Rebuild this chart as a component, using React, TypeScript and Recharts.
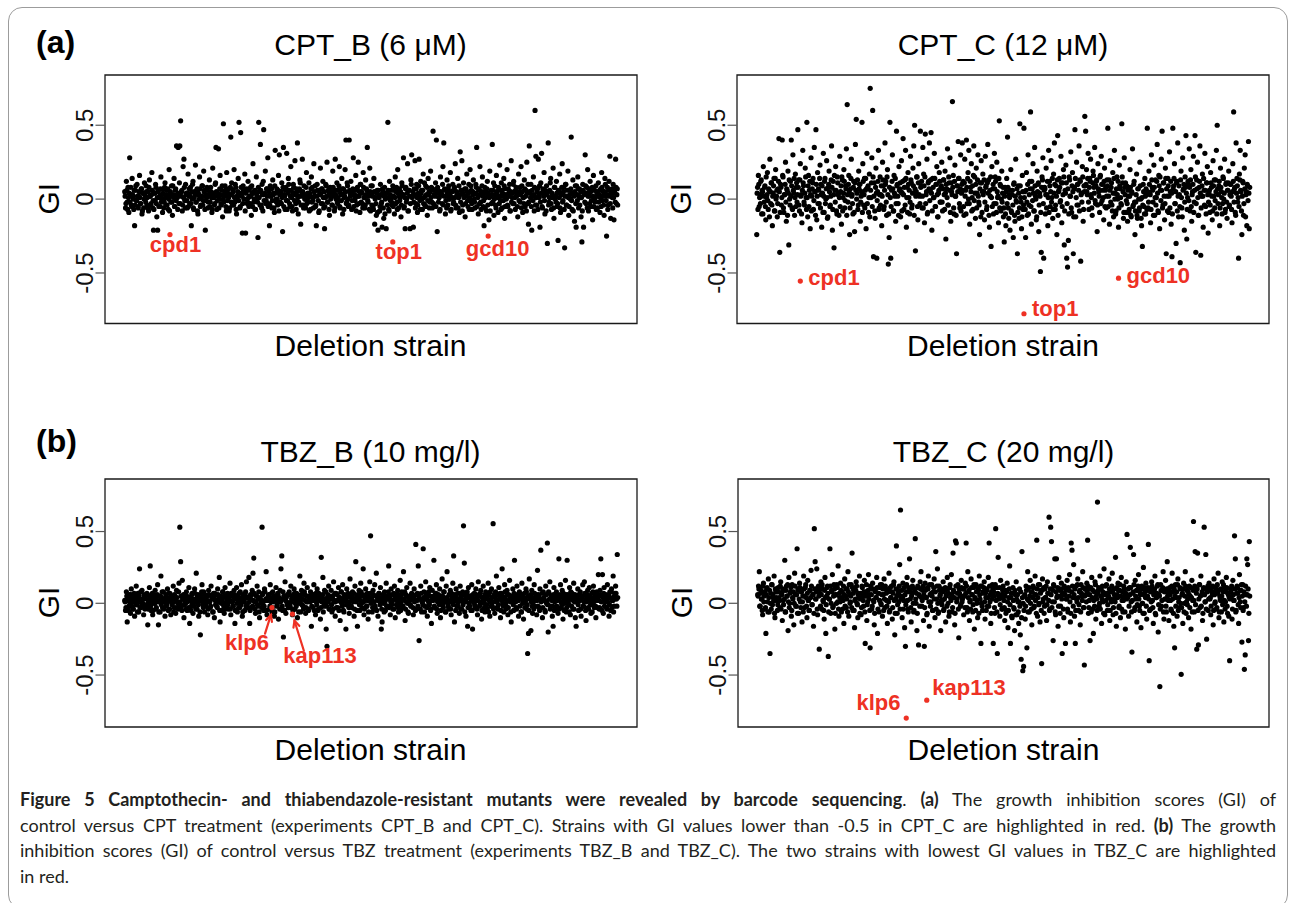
import React from "react";
import { ReferenceArea, Scatter, ScatterChart, XAxis, YAxis } from "recharts";

const FONT = '"Liberation Sans", Arial, Helvetica, sans-serif';
const RED = "#ee3124";

const giTicks = [-0.5, 0, 0.5];
const xDomain = [-24, 623];

// GI score per deletion strain, in strain order (600 strains per experiment)
const cptB = [
  .05,-.06,.12,-.02,.08,-.09,.28,.03,-.04,.14,.01,-.07,-.18,.06,-.01,.10,-.05,.02,.16,-.03,.07,-.10,.04,-.06,.11,
  0,.09,-.04,.05,-.08,.13,.02,-.03,.18,-.06,-.21,.04,-.01,.08,-.12,-.21,.06,.01,-.05,.15,.03,-.09,.07,-.02,.11,
  -.04,.06,.02,-.07,.20,.04,-.02,.09,-.11,.03,.14,-.05,.07,.36,.01,.35,-.03,.36,.53,.05,-.08,.22,.27,-.01,.10,
  .04,-.06,.17,.02,-.03,.08,-.18,0,.12,-.07,.05,.23,-.02,.07,-.10,.03,.15,-.05,.01,.09,-.04,.19,.06,-.21,-.01,
  .08,-.06,.03,.13,-.02,.05,-.09,.21,.01,-.04,.10,.35,-.07,.04,.34,0,.16,-.03,.06,-.12,.51,.02,.09,-.05,.18,
  -.01,.07,-.08,.03,.42,.11,-.04,.05,.20,-.02,.08,-.10,.01,.14,.52,-.06,.45,.04,-.23,.09,0,.17,-.23,.06,-.03,
  .12,-.05,.02,.08,-.11,.04,.24,-.02,.06,-.07,.15,.01,-.26,.52,.05,.37,-.04,.10,-.08,.47,.03,.19,-.01,.07,.28,
  -.03,-.18,.09,.02,-.06,.13,.04,-.09,.33,0,.07,-.04,.16,.30,-.02,.05,.11,-.22,.35,.03,-.07,.08,.31,-.01,.14,
  .06,-.05,.22,.01,-.08,.10,.04,.26,-.03,.07,.38,-.10,.02,.13,-.17,.05,.27,-.04,.09,0,-.06,.18,.03,-.02,.11,
  .04,-.07,.15,.08,-.01,.24,.02,-.05,-.18,.10,.06,-.09,.03,.21,-.03,.07,.12,-.06,-.20,.01,.09,.25,-.02,.05,-.11,
  .08,.02,-.04,.19,.05,-.08,.27,0,.11,-.03,.06,.22,-.06,.03,.14,-.10,.07,.01,.20,.40,-.02,.09,-.05,.40,.04,
  .12,-.07,.03,.28,.06,-.01,.16,-.04,.08,.25,.02,-.09,.10,.05,-.03,.18,.01,-.06,.13,.07,.35,-.02,.04,.21,-.08,
  .03,.09,-.05,.14,-.17,.01,-.11,.06,-.21,.02,-.08,.10,-.03,-.19,.05,-.13,.08,0,-.20,.04,.52,-.07,.12,-.01,.06,
  -.04,.09,.02,-.10,.15,.05,-.02,.20,-.06,.07,.01,-.12,.11,.03,.28,-.05,-.20,.08,0,.24,-.08,.06,-.20,.13,.30,
  .02,-.19,.07,.26,-.03,.10,-.09,.04,.27,-.01,.12,.06,-.07,.17,.01,-.04,.09,.03,-.11,.14,.05,-.02,.19,.08,-.06,
  .46,.03,-.05,.11,.40,-.22,.06,.01,-.08,.15,.04,-.03,.22,.38,.07,-.10,.02,.13,-.04,.09,0,.18,-.07,.05,.10,
  -.02,.08,.24,-.06,.03,.14,.01,-.09,.32,.06,.26,-.04,.11,.02,-.12,.07,.17,-.01,.04,-.07,.20,.09,-.03,.05,.13,
  0,-.06,.10,.35,.03,-.10,.07,.22,-.02,.05,.15,-.05,-.18,.08,.01,-.08,.12,.04,-.14,.19,.02,-.03,.37,.06,-.11,
  .09,-.04,.16,.03,-.09,.06,.23,-.01,.11,-.06,.02,.14,-.13,.07,0,.20,-.05,.04,.10,-.08,.26,.01,-.03,.12,.05,
  -.07,.08,.03,-.12,.17,.05,-.02,.22,.09,-.09,.01,.13,-.05,.06,.25,-.03,-.17,.36,.04,.10,-.21,.02,.15,-.08,.60,
  .29,-.04,.07,.27,.01,-.19,.11,.31,-.06,.04,.18,-.10,.03,.09,-.30,.38,-.02,.06,.14,-.07,.01,.21,-.13,.08,.02,
  .12,-.05,-.28,.05,.17,-.09,.03,.24,-.01,.08,-.33,.10,-.04,.02,.19,-.11,.06,0,.42,-.07,.13,.04,-.15,.09,-.19,
  .03,.15,-.06,.07,.01,-.12,-.29,.10,-.19,.04,.30,-.03,.08,.20,-.08,.02,.12,-.05,.06,-.14,.16,0,-.02,.09,.05,
  -.06,.11,.03,-.09,.07,.18,-.01,.05,-.11,.14,.02,-.25,.08,-.04,.12,.29,-.13,.06,.01,.10,-.14,.04,.27,-.03,.07,
];
// the strains sitting between those above, all inside the dense core
const cptBCore = [
  .02,-.03,.06,-.07,.01,.04,-.02,.08,-.05,.03,0,.06,-.04,.09,-.01,.02,-.06,.05,.01,-.03,.07,-.08,.04,0,.03,
  -.02,.05,.01,-.06,.08,.02,-.04,.03,.06,-.01,-.07,.04,.10,-.03,.01,.05,-.05,.02,.07,-.02,0,.04,-.06,.08,.01,
  .03,-.04,.07,0,-.08,.05,.02,-.02,.09,.01,-.05,.06,-.01,.03,-.07,.04,.11,-.03,.02,.06,-.04,.01,.08,-.06,.03,
  -.01,.04,-.05,.07,.02,-.03,.05,.10,-.06,.01,.03,-.02,.06,-.08,.04,0,.07,-.04,.02,.09,-.01,.05,-.07,.03,.01,
  .06,-.02,.03,-.05,.08,.01,-.07,.04,.02,-.03,.11,.05,-.01,.02,-.06,.07,.03,-.04,.09,0,-.02,.04,.06,-.08,.02,
  .04,.01,-.06,.08,-.02,.03,.06,-.04,.01,.10,-.07,.02,.05,-.01,.03,-.05,.08,.02,-.03,.06,0,-.08,.04,.07,-.02,
  .01,.06,-.03,.02,.09,-.05,.04,0,-.07,.05,.03,-.02,.08,.01,-.04,.06,-.06,.03,.12,-.01,.04,-.03,.07,.02,-.05,
  .05,-.04,.02,.07,-.01,.03,-.06,.09,.04,-.02,0,.06,-.08,.03,.05,-.03,.01,.08,-.05,.02,.06,-.01,-.07,.04,.10,
  -.03,.02,.06,-.05,.04,.08,-.01,.03,-.07,.05,.01,-.02,.07,.11,-.04,.02,.05,-.06,.03,0,.08,-.03,.04,.01,-.08,
  .03,.07,-.02,.01,-.06,.05,.09,-.04,.02,.06,-.01,-.08,.04,.03,.07,-.03,.01,.05,-.05,.10,.02,-.02,.06,-.07,.04,
  0,.05,-.04,.08,.02,-.06,.03,.06,-.02,.01,.09,-.05,.04,-.01,.07,.03,-.07,.02,.05,-.03,.11,0,-.04,.06,.02,
  .04,-.01,.07,-.05,.03,.01,-.08,.06,.02,-.03,.05,.10,-.02,.04,-.06,.08,.01,-.04,.03,.06,-.01,.02,-.07,.05,.09,
  -.04,.02,-.07,.05,0,-.03,.04,-.09,.06,.01,-.05,.03,-.02,.07,-.06,.02,-.10,.04,.01,-.04,.06,-.08,.03,0,-.02,
  .02,-.05,.06,.01,-.03,.08,-.07,.04,.02,-.01,.05,-.04,.09,.03,-.06,.01,.07,-.02,.04,-.08,.06,.02,-.03,.10,.01,
  .05,-.02,.03,-.06,.07,.01,-.04,.09,.02,-.07,.04,0,.06,-.03,.11,.02,-.05,.08,-.01,.03,-.06,.05,.01,-.02,.07,
  -.03,.06,.02,-.05,.04,.08,-.02,.01,-.07,.05,.03,.10,-.04,.02,.06,-.01,-.06,.04,.07,0,.03,-.08,.05,.01,-.03,
  .07,.01,-.04,.05,.02,-.06,.09,.03,-.02,.06,-.08,.04,.01,.07,-.03,.02,.05,-.05,.10,.01,-.01,.06,-.07,.03,.04,
  -.02,.04,.08,-.05,.01,.06,-.03,.03,-.07,.09,.02,-.01,.05,-.06,.04,.07,-.04,.02,.01,-.08,.06,.03,-.02,.11,0,
  .03,-.06,.05,.01,.08,-.03,.02,-.07,.06,.04,-.01,.09,-.05,.03,.01,-.04,.07,.02,-.08,.05,-.02,.04,.10,-.03,.01,
  .06,.02,-.05,.04,-.01,.08,.03,-.06,.05,.01,-.03,.07,.02,-.08,.04,.10,-.02,.05,.01,-.05,.06,-.01,.03,.08,-.04,
  .01,.05,-.07,.03,.09,-.02,.04,-.05,.07,.02,-.01,.06,-.08,.03,.05,-.04,.01,.11,-.03,.04,.02,-.06,.08,0,-.02,
  .04,-.03,.06,.01,-.06,.03,.08,-.02,.05,-.07,.02,.10,-.04,.06,.01,-.05,.03,.07,-.01,.04,-.08,.02,.05,-.03,.09,
  -.01,.07,.02,-.04,.05,.01,-.08,.06,.03,-.02,.09,.04,-.06,.02,.07,-.03,.05,-.01,.08,.02,-.05,.06,.01,-.07,.04,
  .03,-.02,.06,.01,-.05,.08,.02,-.04,.05,.10,-.01,.03,-.07,.06,.02,-.03,.04,.07,-.06,.01,.05,-.02,.08,.03,-.04,
];

const cptC = [
  -.24,.08,.16,-.05,.03,.12,-.10,.05,.22,-.02,.09,-.14,.01,.18,-.07,.06,.27,-.03,.11,-.18,.04,.14,-.08,.20,.02,
  -.12,.07,.41,-.36,.10,-.04,.40,.15,-.09,.03,.25,-.15,.06,.19,-.31,0,.12,.40,-.06,.30,.04,-.11,.17,.08,-.02,
  .47,.13,-.08,.24,.03,-.16,.33,.09,-.04,.21,.01,.52,-.12,.16,.06,-.20,.28,.02,.11,-.07,.35,.05,.47,-.14,.18,
  .07,-.03,.23,.10,-.19,.04,.31,-.09,.14,0,.26,-.13,.08,.19,-.05,.02,.36,-.21,.12,-.33,.06,.22,-.08,.15,.03,
  -.11,.29,.05,-.17,.13,.01,.20,-.06,.09,.34,.64,-.02,.16,-.24,.07,.27,.03,-.10,.12,-.22,.37,.54,.04,-.07,.19,
  .10,-.15,.02,.52,.24,-.04,.14,.06,-.20,.31,.08,-.09,.17,.75,.01,.28,.60,-.39,.11,-.13,.21,-.40,.05,.33,-.06,
  .15,.03,-.18,.25,.09,-.05,.38,.12,-.11,.20,-.44,-.26,.52,-.40,.06,.30,-.08,.16,.02,-.15,.46,.10,-.03,.22,.07,
  -.12,.26,.04,.41,-.07,.13,.33,-.19,.08,.18,.01,-.10,.29,.11,-.04,.21,.36,.50,-.35,.05,.15,-.14,.24,.02,.46,
  .09,-.06,.35,.17,-.16,.44,.03,.27,-.09,.12,.38,.06,.45,-.21,.14,.01,.31,-.05,.10,.22,-.12,.04,.18,-.02,.08,
  .25,-.08,.13,.03,.19,-.27,.07,.34,-.04,.11,.28,-.15,.05,.66,.16,-.10,.23,.02,-.37,.09,.39,.14,-.06,.30,.04,
  .38,.12,-.11,.27,.06,.40,-.03,.18,.33,-.17,.08,.24,.01,-.07,.36,.15,-.13,.21,.04,.30,-.02,-.24,.11,.26,-.09,
  .17,.05,-.14,.29,.09,-.05,.37,.13,-.19,.02,-.32,.22,.07,-.10,.31,.15,-.03,.25,.01,-.16,.53,.10,-.08,.19,.04,
  -.12,-.29,.08,-.18,.14,.42,-.06,.03,-.21,.20,-.09,.06,-.26,.11,-.15,.27,-.02,-.37,.09,-.13,.51,.01,-.20,.16,-.07,
  .48,.05,-.26,.18,-.11,.30,-.04,.12,.59,-.17,.07,.24,-.08,.35,.02,-.14,.19,.10,-.22,.04,-.49,-.36,.15,.28,-.40,
  .08,-.10,.21,.03,-.18,.33,.12,-.05,.26,.01,-.13,.17,.38,-.07,.09,-.24,.43,.05,.14,-.02,.29,-.16,.11,.20,-.31,
  .06,.23,-.40,-.46,-.28,.15,.02,.32,-.09,.18,-.37,.07,.47,-.12,.25,.10,-.04,.36,.13,-.42,.04,.22,-.15,.09,.56,
  .46,.20,.03,.31,-.07,.14,.27,.01,-.11,.19,.08,.35,-.03,.12,-.22,.24,.05,-.09,.16,.29,-.01,.10,-.14,.21,.06,
  -.06,.13,.48,.02,-.17,.26,.08,-.04,.18,-.12,.33,.04,-.08,.15,0,-.19,.23,.07,-.03,.51,.11,-.13,.28,.03,-.09,
  .09,-.15,.02,-.07,.20,-.11,.05,.34,-.04,.12,-.24,-.02,.17,-.13,.07,-.08,.25,0,-.18,-.32,.10,-.05,.14,-.10,.03,
  .48,-.06,.19,.04,-.16,.30,.08,-.02,.23,-.11,.13,.01,.37,-.08,.16,-.20,.06,.27,.46,-.04,.11,-.14,.21,-.37,.02,
  .14,-.09,.32,.05,-.17,-.39,.48,.09,.24,-.03,-.30,.12,.38,-.12,.03,-.43,.19,-.06,.28,.07,-.21,.15,.43,-.27,.01,
  .10,.34,-.08,.20,-.15,.05,.29,-.02,.43,-.36,.13,.25,-.11,.08,.36,-.38,.02,.17,-.19,.06,.31,-.05,.11,.22,-.23,
  .04,-.09,.18,.08,-.14,.26,.02,-.06,.13,.33,.50,-.03,.09,-.18,.21,.05,-.10,.15,0,.27,-.07,.11,-.13,.06,.19,
  -.04,.10,.02,-.16,.24,.59,.07,-.09,.38,.14,-.02,-.40,.17,.33,.05,-.24,.12,-.11,.21,.30,.03,-.18,.09,.39,-.20,
];
const cptCCore = [
  .04,-.07,.10,.01,-.03,.13,.06,-.10,.02,.08,-.05,.15,.03,-.01,.07,-.12,.05,.11,-.04,.02,.09,-.08,.14,0,.06,
  -.03,.12,.05,-.09,.08,.01,.16,-.06,.03,.10,-.02,.07,-.11,.04,.13,-.04,.02,.09,-.07,.06,.14,.01,-.05,.11,.03,
  .08,-.04,.13,.02,-.10,.06,.11,-.02,.04,.15,-.07,.01,.09,-.05,.12,.03,-.08,.07,.14,-.01,.05,-.11,.10,.02,-.03,
  .06,.14,-.06,.03,.09,-.09,.02,.12,-.03,.07,.01,-.12,.10,.05,-.04,.13,.08,-.07,.03,.16,-.02,.06,-.10,.11,.04,
  .01,-.05,.09,.15,-.08,.04,.12,-.01,.07,-.11,.03,.10,.05,-.06,.14,.02,-.03,.08,-.09,.11,.06,0,.13,-.04,.07,
  .10,-.02,.05,-.09,.12,.03,-.06,.14,.07,-.03,.09,.01,-.12,.06,.11,-.05,.15,.02,-.08,.08,.04,-.01,.12,-.07,.03,
  -.04,.09,.02,.13,-.07,.06,.10,-.02,.15,.03,-.10,.08,.01,-.05,.12,.07,-.08,.04,.14,-.03,.09,.02,-.11,.06,.11,
  .05,-.08,.12,.03,.08,-.04,.14,.01,-.09,.10,.06,-.02,.13,-.06,.04,.09,-.11,.07,.02,.15,-.05,.11,.03,-.03,.08,
  .12,.02,-.06,.09,.15,-.03,.05,-.10,.11,.07,-.01,.13,.04,-.08,.08,.01,.14,-.05,.10,.03,-.12,.06,.12,-.02,.09,
  -.02,.07,.13,-.07,.04,.10,.01,-.04,.15,.06,-.09,.11,.03,.08,-.06,.12,.02,-.11,.09,.05,.14,-.03,.07,-.08,.10,
  .06,-.05,.11,.02,-.10,.08,.14,0,-.03,.12,.05,-.08,.09,.16,-.01,.04,.10,-.06,.13,.02,-.04,.07,-.12,.11,.05,
  .03,.13,-.02,.08,-.07,.11,.04,-.11,.06,.15,.01,-.05,.10,-.03,.07,.12,-.09,.05,.02,.14,-.06,.09,0,-.02,.08,
  -.06,.02,-.10,.05,-.03,.08,-.13,.01,.06,-.08,.03,-.04,.10,-.11,.02,-.01,.07,-.09,.04,-.06,.09,-.02,-.12,.05,-.04,
  .01,-.07,.06,-.02,.10,-.10,.03,.07,-.05,.12,-.01,.04,-.08,.09,0,-.12,.05,.11,-.04,.02,-.09,.08,.13,-.03,.06,
  .07,.03,-.06,.12,.01,-.09,.09,.05,-.02,.14,-.07,.04,.10,-.04,.02,.13,-.11,.06,.08,-.01,.11,-.05,.03,.15,-.08,
  .04,.11,-.03,.07,-.10,.13,.02,-.06,.09,.05,-.12,.08,.14,.01,-.04,.10,.06,-.08,.12,.03,-.02,.15,-.07,.05,.09,
  .10,.05,.14,-.02,.08,.12,.03,-.06,.11,.16,.04,-.01,.09,.13,-.04,.07,.02,.15,-.03,.10,.06,.01,.12,-.05,.08,
  .02,.09,-.05,.13,.06,-.02,.11,-.08,.04,.14,0,-.10,.07,.03,.12,-.06,.09,.01,-.04,.15,.05,-.09,.08,.11,-.01,
  -.03,.06,-.09,.02,.08,-.12,.04,-.05,.10,-.02,-.08,.03,-.11,.07,0,-.06,.09,-.13,.01,-.04,.05,-.10,.02,.07,-.07,
  .05,-.02,.10,.03,-.07,.13,.06,-.11,.08,.01,-.04,.12,.04,-.09,.09,.15,-.01,.06,-.06,.11,.02,-.03,.14,.07,-.08,
  .09,.02,-.06,.12,.04,-.10,.07,.14,-.03,.05,.11,-.08,.02,.09,-.05,.13,.01,-.12,.06,.10,-.02,.08,.04,-.07,.12,
  -.01,.08,.13,-.05,.03,.10,-.09,.06,.15,-.03,.07,.01,-.11,.12,.04,-.06,.09,.02,.14,-.04,.06,-.10,.11,.03,-.02,
  .06,-.04,.11,.02,-.08,.09,.13,-.01,.05,-.10,.07,.03,.12,-.06,.08,.01,-.03,.14,.04,-.09,.10,-.02,.06,.11,-.05,
  .03,.10,-.07,.05,.12,-.02,.08,-.11,.04,.09,.01,-.05,.13,.06,-.08,.02,.11,-.03,.07,-.12,.05,.10,-.01,.04,.08,
];

const tbzB = [
  .02,-.05,.08,-.13,.03,-.02,.06,-.07,.10,.01,-.04,.05,-.09,.04,.12,-.01,.07,-.06,.24,.03,-.03,.09,0,-.08,.05,
  .04,-.02,.07,-.15,.01,.11,.26,-.05,.03,-.08,.06,0,.09,-.04,.02,.13,-.15,.05,-.06,.19,.01,-.03,.08,.03,-.09,
  .06,-.01,.10,-.05,.02,.07,-.08,.04,0,.12,-.03,.05,-.07,.09,.01,-.04,.14,.53,.29,-.02,.16,.03,-.10,.06,0,
  .08,-.05,.02,.11,-.14,.04,-.02,.07,-.07,.01,.10,.03,.21,-.04,.06,-.09,.02,-.22,.05,.13,-.01,.08,-.06,.03,0,
  .05,-.08,.09,.01,-.03,.12,.04,-.06,.07,-.10,.02,.06,-.02,.10,.03,.18,-.13,.05,-.05,.08,0,-.07,.11,.04,-.01,
  .07,-.04,.02,.14,-.08,.05,.01,-.02,.09,-.14,.04,.11,-.06,.03,.07,-.03,0,.13,-.09,.06,.02,-.05,.08,.15,-.01,
  .04,.18,-.14,.06,-.03,.09,.21,.315,.01,-.07,.05,.12,-.02,.08,-.10,.03,0,.53,.07,-.05,.10,.02,.22,-.08,.04,
  .06,-.04,.13,.01,-.06,.08,.03,-.09,.05,.11,-.02,.07,-.11,.02,.09,.24,.33,-.05,-.235,.04,.15,-.07,.01,.06,-.03,
  .08,-.01,.12,.03,-.08,.05,.10,-.04,.02,.07,-.10,.04,0,.19,-.06,.09,.03,-.02,.14,.06,-.07,.01,.11,-.04,.05,
  .02,.08,-.16,.04,-.03,.13,.06,-.08,.01,.10,-.05,.07,.03,-.11,.32,.05,.18,-.02,.09,0,-.18,-.30,.06,.12,-.04,
  .03,.09,-.06,.05,.15,.01,-.09,.07,.02,-.03,.11,.04,-.12,.08,0,.13,-.05,.06,.02,-.18,.10,-.01,.05,-.07,.17,
  .04,-.03,.08,.01,-.09,.12,.29,.05,-.16,.03,.09,-.05,.14,0,.06,.24,-.08,.02,.10,-.02,.07,-.11,.04,.15,.47,
  .03,-.06,.09,.01,.13,-.04,.21,.05,-.09,.07,.02,.11,-.18,-.13,.04,0,.08,-.05,.14,.03,-.02,.26,.06,-.08,.10,
  .01,-.04,.07,.12,-.10,.04,.02,.09,-.06,.05,.16,-.01,.08,-.03,.22,.03,-.12,.06,.11,0,-.07,.04,.14,-.02,.07,
  .05,-.08,.10,.02,.41,-.04,.07,.26,-.26,.03,.12,-.06,.01,.38,.08,-.02,.15,.04,-.09,.06,0,.11,-.05,-.14,.09,
  .02,.30,-.03,.07,.13,-.07,.04,.01,.10,-.10,.05,.17,-.01,.08,.03,-.06,.12,.22,0,-.04,.06,.09,-.08,.04,.14,
  .33,-.13,.05,.10,-.02,.07,.01,-.07,.12,.04,-.04,.08,.54,.28,.02,-.09,.06,-.16,.11,0,.05,-.05,.13,-.18,.03,
  .07,-.03,.10,.02,-.08,.15,.05,-.01,.09,-.11,.04,.12,0,-.06,.08,.03,-.04,.14,.06,-.09,.01,.10,-.02,.555,.05,
  -.07,.08,.19,.02,-.04,.11,.05,-.10,.07,.24,0,-.06,.13,.03,-.02,.09,-.08,.06,.16,.01,-.13,.04,.10,-.05,.30,
  .06,-.03,.12,.02,-.09,.08,.04,-.06,.14,0,-.11,.07,.03,.10,-.04,-.35,-.21,.17,.05,-.19,.09,-.07,.01,.13,-.02,
  .04,-.08,.23,.06,-.03,.10,.37,.02,-.10,.08,.03,-.05,.12,0,.42,-.20,.07,.15,-.02,.05,-.09,-.16,.11,.01,-.04,
  .08,.02,-.07,.31,.05,.13,-.03,.09,-.11,.04,0,.16,-.06,.30,.06,-.01,.11,-.08,.03,.07,-.04,.14,.01,-.10,-.16,
  .05,.10,-.05,.02,.08,-.09,.04,.13,-.02,.15,.06,-.12,.01,.09,-.04,.11,.03,-.07,.07,0,.12,-.03,.05,-.10,.08,
  .02,.20,-.04,.09,.31,.05,.20,-.07,.11,.01,.06,-.03,.13,.04,-.09,.08,-.05,.10,.02,.19,-.02,.07,.12,.03,.34,
];
const tbzBCore = [
  .01,-.03,.05,.02,-.05,.04,0,.06,-.02,.03,-.04,.07,.01,-.01,.04,-.06,.02,.05,-.03,.08,0,-.02,.03,.06,-.04,
  .03,-.01,.06,-.04,.02,.05,-.02,.01,.07,-.05,.03,0,.04,-.03,.06,.01,-.06,.02,.05,-.01,.08,.03,-.04,.01,.04,
  -.02,.04,.01,.07,-.04,.02,.05,-.01,.03,-.06,.06,.02,-.03,.04,0,.08,-.02,.01,.05,-.05,.03,.06,-.01,.02,-.04,
  .05,.01,-.03,.04,.02,-.05,.06,0,.03,-.02,.07,-.04,.01,.05,-.01,.02,-.06,.04,.08,.01,-.03,.03,.06,-.02,.01,
  .02,-.04,.06,.01,-.02,.05,.03,-.06,.04,.07,-.01,.02,-.03,.06,.01,-.05,.04,0,.03,.08,-.02,.05,-.04,.01,.03,
  -.01,.05,.02,-.04,.07,.01,-.02,.04,.06,-.05,.03,0,.05,-.03,.02,.08,-.01,.04,-.06,.03,.01,.06,-.02,.04,-.03,
  .04,.01,-.05,.03,.06,-.02,.02,.07,-.04,.01,.05,-.01,.03,-.06,.04,.02,-.03,.06,.01,-.02,.08,.03,-.05,.02,.05,
  .02,-.02,.04,.07,-.03,.01,.05,-.06,.03,.02,-.01,.06,.04,-.04,.01,.03,-.02,.08,.05,-.05,.02,.04,-.01,.06,0,
  .06,-.03,.01,.04,-.05,.03,.07,0,-.02,.05,.02,-.06,.04,.01,.06,-.01,.03,-.04,.08,.02,-.03,.05,.01,-.05,.04,
  .01,.04,-.02,.06,.02,-.05,.03,.07,-.01,.04,-.04,.02,.05,-.03,.01,.06,-.06,.03,.02,.08,-.02,.04,.01,-.04,.05,
  .03,-.01,.05,-.04,.02,.07,.01,-.03,.06,.02,-.05,.04,.01,.08,-.02,.03,-.06,.05,.02,-.01,.04,.07,-.03,.01,.06,
  -.02,.05,.02,.07,-.04,.03,.01,-.05,.06,.04,-.01,.02,.08,-.03,.05,.01,-.04,.03,.06,-.02,.02,-.06,.04,.07,0,
  .04,-.03,.06,.01,-.02,.05,-.05,.03,.02,.07,-.01,.04,-.04,.02,.06,-.06,.01,.05,-.02,.03,.08,-.03,.04,.01,-.01,
  .02,.06,-.04,.03,.05,-.01,.07,-.03,.01,.04,-.05,.06,.02,-.02,.03,.08,-.04,.01,.05,-.06,.04,.02,-.01,.06,.03,
  -.03,.04,.01,-.05,.06,.02,-.02,.05,.03,-.04,.07,.01,-.01,.04,-.06,.03,.06,-.03,.02,.08,-.01,.05,-.04,.02,.04,
  .05,-.02,.03,.07,-.04,.01,.06,-.01,.04,-.05,.02,.05,-.03,.08,.01,-.06,.04,.03,-.02,.06,.01,-.04,.07,.02,-.01,
  .02,.06,-.05,.04,.01,-.02,.07,.03,-.04,.05,.02,-.01,.06,-.06,.03,.01,.08,-.03,.04,-.02,.05,.02,-.05,.06,.01,
  -.01,.03,.06,-.04,.02,.05,-.02,.07,.01,-.05,.04,.02,-.03,.06,.03,-.01,.05,-.06,.02,.08,-.02,.04,.01,-.04,.06,
  .04,.01,-.03,.06,-.01,.03,.07,-.05,.02,.05,-.02,.04,.08,-.04,.01,.06,-.03,.02,.04,-.06,.05,.01,-.01,.07,.03,
  .01,-.04,.05,.02,.07,-.02,.03,-.06,.06,.01,.04,-.03,.02,.08,-.01,.05,-.05,.03,.06,.01,-.02,.04,-.04,.07,.02,
  .06,.02,-.02,.05,-.05,.03,.01,.07,-.03,.04,.02,-.06,.06,.01,-.01,.08,.03,-.04,.05,.02,-.02,.06,-.05,.03,.04,
  -.02,.05,.03,-.04,.06,.01,-.01,.04,.07,-.05,.02,.06,-.03,.03,.01,-.06,.05,.08,-.02,.04,.02,-.04,.06,.01,.03,
  .03,-.01,.06,.02,-.04,.05,.04,-.02,.01,.07,-.05,.03,.06,-.03,.02,.05,-.01,.04,-.06,.08,.01,.03,-.02,.06,-.03,
  .05,.02,-.03,.06,.01,-.05,.04,.07,-.02,.03,.05,-.04,.01,.06,-.01,.04,.08,-.03,.02,-.06,.05,.03,.07,-.02,.04,
];

const tbzC = [
  .06,.12,.22,-.02,.09,.03,-.08,.14,.05,-.04,-.21,.10,.01,.17,-.06,-.35,.07,.13,-.01,.04,.19,-.10,.08,.02,-.05,
  .11,.04,-.03,.15,.07,-.12,.02,.09,.30,-.06,.12,.05,-.19,.18,0,.08,-.09,.13,.03,-.15,.21,.06,-.02,.38,.10,
  -.07,.14,.01,.08,-.13,.05,.19,-.03,.11,.04,-.10,.16,.02,-.05,.09,.23,-.01,.06,-.16,.52,.29,.03,.24,-.08,.12,
  -.32,.07,.15,-.04,.10,.01,-.11,.18,-.21,.05,.12,-.37,.03,.38,-.07,.09,.20,-.02,.13,-.18,.06,0,.11,.26,-.09,
  .04,.14,-.06,.08,.02,-.14,.17,.05,-.03,.10,.22,-.09,.06,.01,.13,.35,-.05,.09,-.17,.03,.15,0,-.10,.07,.19,
  .03,-.08,.12,.05,-.02,.16,-.28,.08,-.12,.01,.20,.06,-.31,.10,-.04,.14,.02,-.15,.09,.04,.18,-.21,.07,-.06,.11,
  0,.13,-.09,.06,.17,-.03,.10,.02,-.14,.08,.21,-.05,.04,.12,-.11,.07,.15,-.22,.03,.40,-.07,.09,.01,.27,.65,
  .05,-.10,.14,.02,-.17,-.30,.08,.18,-.04,.11,.31,.03,-.13,.07,.16,-.06,.10,.45,0,-.19,.12,-.29,.05,.15,.22,
  -.02,.09,-.12,-.30,.14,.04,-.08,.11,.19,-.16,.06,.01,.13,-.05,.08,.17,-.10,.36,.03,.24,-.07,.12,.05,-.19,.10,
  .02,.15,-.04,.09,-.13,.06,.18,0,-.09,.11,.04,.20,-.06,.35,.08,-.15,.435,.42,.03,.13,-.24,.07,-.02,.16,.01,
  .10,-.08,.05,.14,.42,-.03,.22,.08,-.12,.02,.17,.06,-.06,.11,-.18,.04,.13,0,-.10,.09,.19,.03,-.28,.12,-.05,
  .07,.15,-.11,.04,.10,-.02,.18,.42,.01,-.14,.08,.13,-.28,.05,-.07,.52,.11,-.35,.32,.03,-.09,.16,.06,-.04,.12,
  .02,-.12,.09,-.05,.14,-.17,.04,.26,-.28,.07,-.10,.11,-.03,-.19,.06,.15,-.08,.01,-.14,.10,-.22,-.39,.36,-.47,-.44,
  .05,-.11,.12,-.31,.22,.02,-.06,.16,.08,-.15,.04,.11,-.02,.19,.06,.44,-.09,.13,0,-.13,.09,-.42,.17,.03,-.07,
  .10,.04,-.12,.15,.07,.60,-.04,.53,.43,.01,-.26,.12,.31,-.08,.31,.05,-.16,.18,.09,-.02,.14,-.35,.06,-.10,.11,
  -.28,.03,.16,-.06,.09,.20,-.13,.42,.37,.04,.27,-.09,-.28,.12,.01,.17,-.05,.08,-.15,.13,.05,.22,-.03,-.43,.10,
  .06,.14,.44,-.07,.02,-.26,.11,.18,-.04,-.21,.08,.15,-.11,.03,.705,.09,-.02,.19,.05,-.14,.12,.01,.24,-.08,.07,
  .13,-.05,.04,.17,-.12,.08,.01,.21,-.08,.10,.03,.32,-.16,.06,.14,-.03,.09,-.10,.18,.02,-.06,.12,.05,-.18,.15,
  .48,.04,-.09,.11,.39,.01,-.34,.07,.34,-.05,.16,.03,-.13,.09,.20,-.02,.06,-.17,.12,0,.25,-.07,.08,.14,-.11,
  .05,.41,-.40,.10,-.04,.15,.02,-.14,.08,.19,-.08,.04,.12,-.20,.06,-.58,.13,-.02,.09,.22,-.11,.03,.16,-.06,.29,
  .07,-.12,.11,.02,-.05,.21,.08,-.16,-.31,.13,.04,-.09,.17,.01,-.03,.10,-.495,.06,-.14,.14,0,.22,-.07,.09,.03,
  -.10,.12,.05,-.18,.16,.02,.57,-.06,.36,.09,-.32,.35,-.29,.13,-.03,.19,.06,-.12,.10,.53,.01,.34,-.25,.08,-.05,
  .14,.03,-.08,.11,.06,-.15,.17,0,.09,-.04,.13,.21,-.10,.05,.02,-.06,.15,.08,-.13,.11,.01,.18,-.02,.07,-.09,
  -.40,.10,.04,-.11,.16,.02,.47,.31,-.05,.12,.07,-.14,.20,.01,.09,-.27,.13,-.03,-.46,-.36,.06,.31,.27,-.26,.43,
];
const tbzCCore = [
  .05,.10,-.02,.07,.03,-.05,.12,.01,.08,-.03,.06,.11,-.06,.04,.09,0,-.04,.13,.06,.02,-.07,.10,.04,.08,-.01,
  .08,.02,.12,-.04,.06,.10,-.01,.03,-.06,.09,.05,.13,.01,-.03,.07,.11,-.05,.04,.08,0,.12,-.02,.06,-.07,.09,
  .03,.11,-.03,.08,.01,-.06,.10,.05,.13,-.02,.07,.02,-.05,.09,.04,.12,-.01,.06,-.07,.10,.03,.08,-.04,.11,.05,
  .10,-.02,.06,.13,.02,-.05,.09,.04,-.01,.11,.07,-.06,.03,.12,0,.08,-.03,.05,.10,-.07,.06,.13,.01,-.04,.07,
  .01,.09,.04,-.04,.12,.06,-.02,.10,.03,-.06,.08,.13,0,.05,-.03,.11,.07,-.05,.02,.09,.12,-.01,.06,.04,-.07,
  .07,-.03,.11,.02,.08,-.06,.05,.13,-.01,.09,.03,-.05,.12,.06,-.02,.10,.01,-.07,.08,.04,.11,-.04,.07,.02,.13,
  -.01,.06,.10,-.05,.03,.12,.07,-.02,.09,.01,-.06,.11,.04,.08,-.03,.13,.02,-.07,.10,.05,-.01,.07,.12,-.04,.03,
  .09,.04,-.04,.11,.06,-.01,.13,.02,-.06,.08,.10,-.03,.05,.12,0,-.05,.09,.03,.07,-.07,.11,.06,-.02,.10,.04,
  .02,.12,.06,-.03,.09,.04,-.07,.10,.01,.13,-.02,.07,.05,-.05,.11,.03,.08,-.04,.12,0,-.06,.09,.06,.02,-.01,
  .08,-.05,.03,.11,.05,-.02,.10,.07,-.06,.13,.02,.06,-.03,.09,.04,-.07,.12,.01,.07,-.04,.10,.05,-.01,.11,.03,
  .05,.10,-.03,.07,.12,-.06,.04,.09,.01,-.04,.11,.06,-.01,.13,.03,-.05,.08,.02,.10,-.07,.06,.12,0,-.02,.08,
  .11,.01,.07,-.05,.09,.04,-.02,.12,.06,-.07,.03,.10,.08,-.03,.13,.02,-.06,.07,.05,.11,-.01,.04,-.04,.09,.06,
  -.03,.05,-.07,.08,.01,-.05,.10,-.01,.04,-.09,.07,.02,-.04,.09,-.08,.03,.06,-.06,.01,-.02,.08,-.10,.04,0,-.05,
  .06,-.02,.09,.03,-.06,.11,.05,0,-.04,.08,.12,-.03,.06,.02,-.07,.10,.04,-.01,.13,.07,-.05,.09,.01,.11,-.02,
  .04,.12,-.01,.07,.02,-.05,.10,.06,-.03,.09,.13,.01,-.06,.08,.04,.11,-.02,.05,-.07,.10,.03,.07,-.04,.12,.06,
  .09,.03,-.04,.11,.05,.01,-.07,.08,.12,-.02,.06,.10,-.05,.03,.13,.04,-.01,.09,-.06,.07,.02,.11,-.03,.05,.10,
  .01,.08,.12,-.03,.06,.10,-.06,.04,.09,.02,-.02,.13,.05,-.05,.07,.11,0,-.04,.10,.03,.08,-.07,.06,.12,.02,
  .07,-.01,.05,.10,-.05,.03,.12,.08,-.03,.06,.01,-.07,.11,.04,.09,-.02,.13,.05,-.04,.08,.02,.10,-.06,.07,.03,
  .04,.10,-.02,.06,.11,-.06,.02,.08,.13,-.03,.05,.09,-.01,.12,.03,-.05,.07,.10,0,-.07,.06,.11,.04,-.02,.09,
  .11,.03,-.05,.08,.01,.12,-.03,.06,.10,-.07,.04,.07,.13,-.01,.05,-.04,.09,.02,.11,-.06,.08,.03,-.02,.10,.05,
  .02,.09,.06,-.04,.12,.03,-.07,.10,.05,-.02,.08,.13,-.05,.04,.11,0,-.03,.07,.10,-.06,.05,.12,.01,-.01,.08,
  .06,-.03,.11,.04,-.06,.09,.02,.12,-.01,.07,.10,-.05,.03,.13,.05,-.02,.08,-.07,.11,.06,.01,-.04,.09,.12,.03,
  .10,.04,-.02,.08,.12,-.05,.06,.01,.11,-.03,.07,.09,-.06,.03,.10,.05,-.01,.13,.02,-.04,.08,.11,-.07,.06,.04,
  .03,.08,.12,-.04,.06,.02,.10,-.06,.07,.11,-.01,.04,.09,-.03,.13,.05,-.05,.08,.01,.12,-.02,.06,.10,-.07,.05,
];

// highlighted strains (strain index, GI)
const cptBHits = [
  { label: "cpd1", idx: 55, gi: -0.24 },
  { label: "top1", idx: 326, gi: -0.29 },
  { label: "gcd10", idx: 442, gi: -0.25 },
];
const cptCHits = [
  { label: "cpd1", idx: 53, gi: -0.555 },
  { label: "top1", idx: 325, gi: -0.776 },
  { label: "gcd10", idx: 440, gi: -0.535 },
];
const tbzBHits = [
  { label: "klp6", idx: 179, gi: -0.03 },
  { label: "kap113", idx: 204, gi: -0.075 },
];
const tbzCHits = [
  { label: "klp6", idx: 181, gi: -0.8 },
  { label: "kap113", idx: 206, gi: -0.675 },
];

type Note = { dx: number; dy: number; anchor: "start" | "middle"; arrow?: number[] };
type Hit = { label: string; idx: number; gi: number };

const Dot = (p: any) => <circle cx={p.cx} cy={p.cy} r={2.6} fill="#000" />;

function Arrow({ x1, y1, x2, y2 }: { x1: number; y1: number; x2: number; y2: number }) {
  const a = Math.atan2(y2 - y1, x2 - x1);
  const L = 7;
  const h1 = `${x2 - L * Math.cos(a - 0.45)},${y2 - L * Math.sin(a - 0.45)}`;
  const h2 = `${x2 - L * Math.cos(a + 0.45)},${y2 - L * Math.sin(a + 0.45)}`;
  return (
    <g stroke={RED} strokeWidth={2.2} fill="none" strokeLinecap="round">
      <line x1={x1} y1={y1} x2={x2} y2={y2} />
      <polyline points={`${h1} ${x2},${y2} ${h2}`} />
    </g>
  );
}

function makeHitShape(notes: Record<string, Note>) {
  return (p: any) => {
    const n = notes[p.payload.label];
    const { cx, cy } = p;
    return (
      <g>
        <circle cx={cx} cy={cy} r={2.6} fill={RED} />
        {n.arrow && (
          <Arrow x1={cx + n.arrow[0]} y1={cy + n.arrow[1]} x2={cx + n.arrow[2]} y2={cy + n.arrow[3]} />
        )}
        <text
          x={cx + n.dx}
          y={cy + n.dy}
          textAnchor={n.anchor}
          fill={RED}
          fontSize={22}
          fontWeight="bold"
          fontFamily={FONT}
        >
          {p.payload.label}
        </text>
      </g>
    );
  };
}

function GiTick(p: any) {
  const { x, y, payload } = p;
  const lx = x - 12;
  return (
    <g>
      <line x1={x - 9.5} x2={x} y1={y} y2={y} stroke="#555" strokeWidth={1.2} />
      <text
        x={lx}
        y={y}
        transform={`rotate(-90 ${lx} ${y})`}
        textAnchor="middle"
        fontSize={24}
        fontFamily={FONT}
        fill="#111"
      >
        {String(payload.value)}
      </text>
    </g>
  );
}

type Box = { x: number; y: number; w: number; h: number };

function Panel(props: {
  values: number[];
  core: number[];
  hits: Hit[];
  box: Box;
  yDomain: number[];
  notes: Record<string, Note>;
}) {
  const { values, core, hits, box, yDomain, notes } = props;
  const pts = [
    ...values.map((gi, i) => ({ x: i, y: gi })),
    ...core.map((gi, i) => ({ x: i + 0.5, y: gi })),
  ];
  const red = hits.map((h) => ({ x: h.idx, y: h.gi, label: h.label }));
  const yw = 50;
  return (
    <div style={{ position: "absolute", left: box.x - yw, top: box.y - 5 }}>
      <ScatterChart
        width={box.w + yw + 5}
        height={box.h + 10}
        margin={{ top: 5, right: 5, bottom: 5, left: 0 }}
      >
        <XAxis type="number" dataKey="x" domain={xDomain} hide allowDataOverflow />
        <YAxis
          type="number"
          dataKey="y"
          domain={yDomain}
          ticks={giTicks}
          interval={0}
          width={yw}
          axisLine={false}
          tickLine={false}
          tickSize={0}
          tickMargin={0}
          tick={(p: any) => <GiTick {...p} />}
          allowDataOverflow
        />
        <ReferenceArea
          x1={xDomain[0]}
          x2={xDomain[1]}
          y1={yDomain[0]}
          y2={yDomain[1]}
          fill="none"
          stroke="#1a1a1a"
          strokeWidth={1.3}
          ifOverflow="visible"
        />
        <Scatter data={pts} shape={Dot} isAnimationActive={false} />
        <Scatter data={red} shape={makeHitShape(notes)} isAnimationActive={false} />
      </ScatterChart>
    </div>
  );
}

const notesCptB: Record<string, Note> = {
  cpd1: { dx: 5.5, dy: 17, anchor: "middle" },
  top1: { dx: 6, dy: 17, anchor: "middle" },
  gcd10: { dx: 9.5, dy: 20, anchor: "middle" },
};
const notesCptC: Record<string, Note> = {
  cpd1: { dx: 8, dy: 4, anchor: "start" },
  top1: { dx: 8, dy: 2, anchor: "start" },
  gcd10: { dx: 8, dy: 4.5, anchor: "start" },
};
const notesTbzB: Record<string, Note> = {
  klp6: { dx: -25, dy: 42, anchor: "middle", arrow: [-6.9, 26, -1, 7.3] },
  kap113: { dx: 27.5, dy: 48.7, anchor: "middle", arrow: [11.4, 36.7, 2, 6.7] },
};
const notesTbzC: Record<string, Note> = {
  klp6: { dx: -27.7, dy: -8, anchor: "middle" },
  kap113: { dx: 5.6, dy: -5.3, anchor: "start" },
};

const boxes: Record<string, Box> = {
  cptB: { x: 104.5, y: 74.5, w: 532, h: 248.5 },
  cptC: { x: 737, y: 74.5, w: 532, h: 248.5 },
  tbzB: { x: 104.5, y: 478.5, w: 532, h: 248 },
  tbzC: { x: 738, y: 478.5, w: 531, h: 248 },
};
const yDomA = [-0.842, 0.84];
const yDomB = [-0.862, 0.866];

const titles = [
  { text: "CPT_B (6 μM)", box: "cptB", y: 55 },
  { text: "CPT_C (12 μM)", box: "cptC", y: 55 },
  { text: "TBZ_B (10 mg/l)", box: "tbzB", y: 462 },
  { text: "TBZ_C (20 mg/l)", box: "tbzC", y: 462 },
];

const lineStyle = { textAlign: "justify", textAlignLast: "justify", whiteSpace: "nowrap" } as const;

export default function App() {
  return (
    <div style={{ position: "absolute", left: 0, top: 0, width: 1292, height: 903, background: "#fff", overflow: "hidden" }}>
      <div
        style={{
          position: "absolute",
          left: 8,
          top: 7,
          width: 1278,
          height: 900,
          border: "1px solid #9c9c9c",
          borderRadius: 14,
        }}
      />
      <Panel values={cptB} core={cptBCore} hits={cptBHits} box={boxes.cptB} yDomain={yDomA} notes={notesCptB} />
      <Panel values={cptC} core={cptCCore} hits={cptCHits} box={boxes.cptC} yDomain={yDomA} notes={notesCptC} />
      <Panel values={tbzB} core={tbzBCore} hits={tbzBHits} box={boxes.tbzB} yDomain={yDomB} notes={notesTbzB} />
      <Panel values={tbzC} core={tbzCCore} hits={tbzCHits} box={boxes.tbzC} yDomain={yDomB} notes={notesTbzC} />
      <svg width={1292} height={903} style={{ position: "absolute", left: 0, top: 0, pointerEvents: "none" }}>
        <g fontFamily={FONT} fill="#000">
          <text x={36} y={53} fontSize={32} fontWeight="bold">(a)</text>
          <text x={36} y={452} fontSize={32} fontWeight="bold">(b)</text>
          {titles.map((t) => {
            const b = boxes[t.box];
            return (
              <text key={t.text} x={b.x + b.w / 2} y={t.y} fontSize={30} textAnchor="middle">
                {t.text}
              </text>
            );
          })}
          {Object.keys(boxes).map((k) => {
            const b = boxes[k];
            const gy = b.y + b.h / 2;
            const gx = b.x - 46;
            return (
              <g key={k}>
                <text x={b.x + b.w / 2} y={b.y + b.h + 33} fontSize={30} textAnchor="middle">
                  Deletion strain
                </text>
                <text x={gx} y={gy} fontSize={30} textAnchor="middle" transform={`rotate(-90 ${gx} ${gy})`}>
                  GI
                </text>
              </g>
            );
          })}
        </g>
      </svg>
      <div
        style={{
          position: "absolute",
          left: 20,
          top: 787,
          width: 1256,
          fontFamily: "Lato, 'Open Sans', sans-serif",
          fontSize: 18,
          lineHeight: "25.5px",
          color: "#231f20",
        }}
      >
        <div style={lineStyle}>
          <b>Figure 5 Camptothecin- and thiabendazole-resistant mutants were revealed by barcode sequencing</b>.{" "}
          <b>(a)</b> The growth inhibition scores (GI) of
        </div>
        <div style={lineStyle}>
          control versus CPT treatment (experiments CPT_B and CPT_C). Strains with GI values lower than -0.5 in CPT_C are highlighted in red. <b>(b)</b> The growth
        </div>
        <div style={lineStyle}>
          inhibition scores (GI) of control versus TBZ treatment (experiments TBZ_B and TBZ_C). The two strains with lowest GI values in TBZ_C are highlighted
        </div>
        <div>in red.</div>
      </div>
    </div>
  );
}
